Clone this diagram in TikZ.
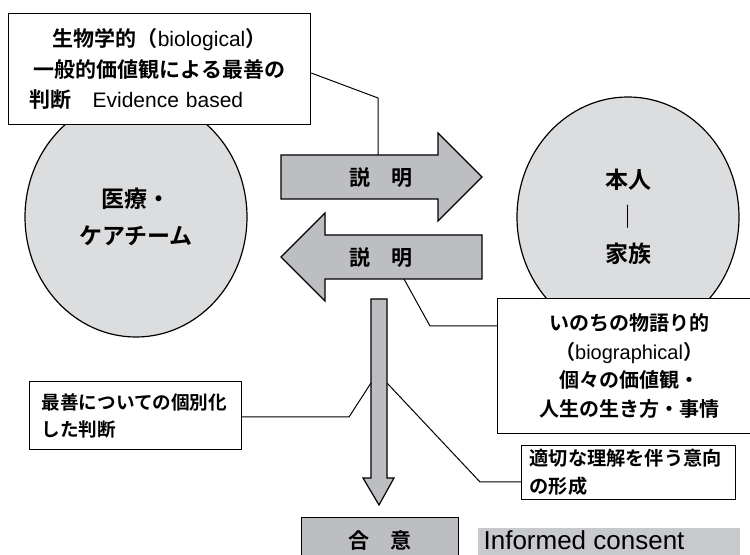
\documentclass[tikz,border=0pt]{standalone}
\usepackage{fontspec}
\setmainfont{Noto Sans CJK JP}[BoldFont={* Bold}]
\newfontfamily\latinfont{Liberation Sans}
\usetikzlibrary{shapes.geometric}
\definecolor{circlegray}{RGB}{220,221,223}
\definecolor{arrowgray}{RGB}{189,190,193}
\definecolor{notegray}{RGB}{200,201,204}
\newcommand{\lat}[1]{{\latinfont\mdseries #1}}
\begin{document}
\begin{tikzpicture}[x=0.5pt,y=-0.5pt,line width=0.6pt,
        circ/.style={ellipse,draw,fill=circlegray,minimum width=111pt,minimum height=120pt,
            align=center,font=\bfseries\fontsize{11.5}{18.5}\selectfont},
        whitebox/.style={draw,fill=white,inner sep=0pt,anchor=north west},
        graybox/.style={fill=arrowgray,draw,inner sep=0pt,anchor=north west},
        blockarrow/.style={draw,fill=arrowgray,line join=miter},
        callout/.style={line width=0.5pt}]
        \useasboundingbox (0,0) rectangle (750,555);
        \clip (0,0) rectangle (750,555);
        %% Circles
        \node[circ] (team) at (136,217) {医療・\\ケアチーム};
        \node[circ] (person) at (628,217) {本人\\｜\\家族};
        %% Boxes
        \node[whitebox,minimum width=151pt,minimum height=55.5pt,text width=130pt,align=center,
            font=\bfseries\fontsize{10.5}{15.25}\selectfont] (bio) at (8,13)
            {生物学的（\lat{biological}）\\一般的価値観による最善の\\
             \makebox[130pt][l]{判断　\lat{Evidence based}}};
        \node[whitebox,minimum width=131.5pt,minimum height=67.5pt,align=center,
            font=\bfseries\fontsize{10}{14.25}\selectfont] (story) at (497,298)
            {いのちの物語り的\\（\lat{biographical}）\\個々の価値観・\\人生の生き方・事情};
        \node[whitebox,minimum width=106pt,minimum height=34pt,text width=94pt,align=left,
            font=\bfseries\fontsize{9.3}{13.5}\selectfont] (indiv) at (29,381)
            {最善についての個別化\\した判断};
        \node[whitebox,minimum width=107pt,minimum height=27pt,text width=99pt,align=left,
            font=\bfseries\fontsize{9.6}{14}\selectfont] (intent) at (521,445)
            {適切な理解を伴う意向\\の形成};
        \node[graybox,minimum width=78.5pt,minimum height=23pt,
            font=\bfseries\fontsize{10.5}{12}\selectfont] (agree) at (301,517) {合　意};
        \node[fill=notegray,inner sep=0pt,anchor=north west,minimum width=131pt,
            minimum height=20pt] (ic) at (477,527) {};
        \node[anchor=base west,inner sep=0pt,font=\latinfont\fontsize{13}{15}\selectfont]
            (ictext) at (483,550) {Informed consent};
        %% Arrows
        \draw[blockarrow] (281,155) -- (438,155) -- (438,133) -- (482,177) -- (438,221)
            -- (438,199) -- (281,199) -- cycle;
        \draw[blockarrow] (482,235) -- (325,235) -- (325,213) -- (281,257) -- (325,301)
            -- (325,279) -- (482,279) -- cycle;
        \draw[blockarrow] (371,299) -- (387,299) -- (387,478) -- (394,478) -- (379,505)
            -- (363,478) -- (371,478) -- cycle;
        \node[font=\bfseries\fontsize{10.5}{12}\selectfont] (toright) at (381,178) {説　明};
        \node[font=\bfseries\fontsize{10.5}{12}\selectfont] (toleft) at (381,258) {説　明};
        %% Callouts
        \coordinate (rtop) at (378,155);
        \coordinate (lbot) at (404,279);
        \coordinate (dleft) at (371,383);
        \coordinate (dright) at (387,383);
        \draw[callout] (bio.east |- 0,73) -- (378,98) -- (rtop);
        \draw[callout] (lbot) -- (430,326) -- (story.west |- 0,326);
        \draw[callout] (indiv.east |- 0,417) -- (349,417) -- (dleft);
        \draw[callout] (dright) -- (480,482) -- (intent.west |- 0,482);
    \end{tikzpicture}
\end{document}
